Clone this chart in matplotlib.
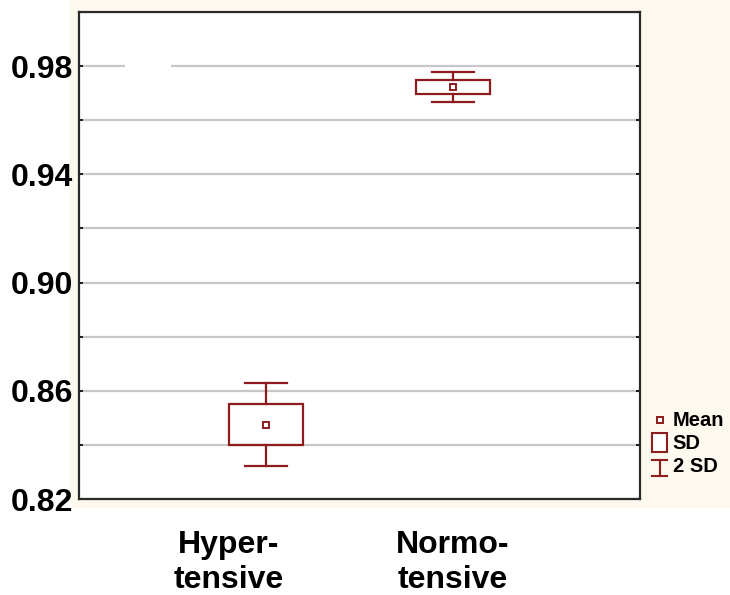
import matplotlib.pyplot as plt
import matplotlib.transforms as mtransforms
from matplotlib.patches import Rectangle
import numpy as np

plt.rcParams['font.family'] = ['Liberation Sans', 'DejaVu Sans']
plt.rcParams['font.weight'] = 'bold'

# Data
groups = ['Hyper-\ntensive', 'Normo-\ntensive']
means = [0.8475, 0.9723]
sds = [0.0076, 0.0027]
yticks = [0.82, 0.86, 0.90, 0.94, 0.98]

# Style constants
boxColor = '#8E1B1E'
boxWidth = 0.40
capWidth = 0.22

fig = plt.figure(figsize=(7.3, 5.95), dpi=100)
fig.patch.set_facecolor('white')
# cream panel behind the plot
fig.add_artist(Rectangle((0.096, 0.146), 0.904, 0.854, transform=fig.transFigure,
                         facecolor='#FDF9EE', edgecolor='none', zorder=0))

ax = fig.add_axes([0.1082, 0.1613, 0.7685, 0.8185])
ax.set_facecolor('white')
ax.set_zorder(1)

x = np.arange(1, len(groups) + 1)
for xi, m, s in zip(x, means, sds):
    # SD box
    ax.add_patch(Rectangle((xi - boxWidth / 2, m - s), boxWidth, 2 * s,
                           facecolor='none', edgecolor=boxColor, linewidth=1.6, zorder=3))
    # 2 SD whiskers
    ax.plot([xi, xi], [m + s, m + 2 * s], color=boxColor, linewidth=1.6, zorder=3)
    ax.plot([xi, xi], [m - s, m - 2 * s], color=boxColor, linewidth=1.6, zorder=3)
    ax.plot([xi - capWidth / 2, xi + capWidth / 2], [m + 2 * s] * 2, color=boxColor, linewidth=1.6, zorder=3)
    ax.plot([xi - capWidth / 2, xi + capWidth / 2], [m - 2 * s] * 2, color=boxColor, linewidth=1.6, zorder=3)
# mean markers
ax.plot(x, means, linestyle='none', marker='s', markersize=5, markerfacecolor='white',
        markeredgecolor=boxColor, markeredgewidth=1.4, zorder=4)

ax.set_xlim(0, 3)
ax.set_ylim(0.82, 1.00)
ax.set_yticks(yticks)
ax.set_yticklabels(['%.2f' % t for t in yticks], fontsize=23, fontweight='bold')
ax.set_yticks(np.arange(0.82, 1.0, 0.02), minor=True)
ax.grid(True, which='both', axis='y', color='#C8C8C8', linewidth=1.6, zorder=0)
ax.set_axisbelow(True)
ax.tick_params(axis='y', which='both', direction='in', length=3, width=1.2,
               left=True, right=True, pad=4)

ax.set_xticks(x)
ax.set_xticklabels(groups, fontsize=23, fontweight='bold', linespacing=1.25)
ax.tick_params(axis='x', length=0, pad=22)
# the first label sits a bit left of its box
offset = mtransforms.ScaledTranslation(-37 / 100, 0, fig.dpi_scale_trans)
ax.get_xticklabels()[0].set_transform(ax.get_xticklabels()[0].get_transform() + offset)

for sp in ax.spines.values():
    sp.set_color('#2A2A2A')
    sp.set_linewidth(1.6)

# white patch over the gridline near the top left (as in the source)
ax.add_patch(Rectangle((0.082, 0.835), 0.082, 0.075, transform=ax.transAxes,
                       facecolor='white', edgecolor='none', zorder=2))

# hand-drawn legend to the right of the plot
lx = 1.035
ax.plot([lx], [0.162], transform=ax.transAxes, marker='s', markersize=5, markerfacecolor='white',
        markeredgecolor=boxColor, markeredgewidth=1.4, clip_on=False)
ax.add_patch(Rectangle((lx - 0.014, 0.097), 0.028, 0.039, transform=ax.transAxes,
                       facecolor='white', edgecolor=boxColor, linewidth=1.5, clip_on=False))
ax.plot([lx, lx], [0.047, 0.080], transform=ax.transAxes, color=boxColor, linewidth=1.5, clip_on=False)
ax.plot([lx - 0.014, lx + 0.014], [0.080, 0.080], transform=ax.transAxes, color=boxColor, linewidth=1.5, clip_on=False)
ax.plot([lx - 0.014, lx + 0.014], [0.047, 0.047], transform=ax.transAxes, color=boxColor, linewidth=1.5, clip_on=False)
for ty, lab in zip([0.162, 0.115, 0.066], ['Mean', 'SD', '2 SD']):
    ax.text(1.058, ty, lab, transform=ax.transAxes, fontsize=14.5, fontweight='bold',
            va='center', ha='left')

fig.savefig('out.png', dpi=100)
